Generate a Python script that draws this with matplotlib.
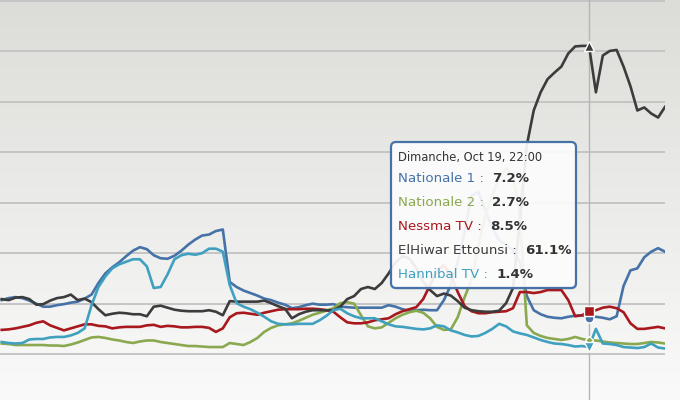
import matplotlib
matplotlib.use("Agg")
import matplotlib.pyplot as plt
import numpy as np
from matplotlib.patches import FancyBboxPatch

# audience share (%) per time slot, the hovered slot is index 85
names = ["Nationale 1", "Nationale 2", "Nessma TV", "ElHiwar Ettounsi", "Hannibal TV"]
colors = ["#4572A7", "#8AA94F", "#A8181D", "#3C3C3C", "#3FA0BF"]
markers = ["o", "D", "s", "^", "v"]

nationale1 = [10.7, 11.1, 11.3, 11.1, 10.6, 10.0, 9.4, 9.4, 9.7, 9.9,
              10.2, 10.4, 11.0, 11.8, 14.1, 16.0, 17.2, 18.2, 19.4, 20.5,
              21.2, 20.8, 19.6, 19.0, 18.9, 19.5, 20.5, 21.7, 22.7, 23.5,
              23.7, 24.4, 24.7, 14.3, 13.3, 12.6, 12.1, 11.6, 11.0, 10.7,
              10.2, 9.8, 9.1, 9.3, 9.7, 10.0, 9.8, 9.8, 9.9, 9.4,
              9.3, 9.2, 9.2, 9.2, 9.2, 9.2, 9.7, 9.4, 8.9, 8.6,
              8.7, 8.8, 8.7, 8.7, 10.7, 13.7, 18.2, 24.2, 31.5, 32.1,
              28.5, 25.0, 22.6, 21.6, 20.6, 18.2, 11.5, 8.7, 7.9, 7.4,
              7.2, 7.1, 7.4, 7.6, 7.7, 7.2, 7.4, 7.2, 6.9, 7.5,
              13.5, 16.6, 17.0, 19.2, 20.3, 21.0, 20.3]

nationale2 = [2.1, 2.0, 1.8, 1.8, 1.8, 1.8, 1.8, 1.7, 1.7, 1.6,
              1.9, 2.3, 2.8, 3.3, 3.4, 3.2, 2.9, 2.7, 2.4, 2.2,
              2.5, 2.7, 2.7, 2.4, 2.2, 2.0, 1.8, 1.6, 1.6, 1.5,
              1.4, 1.4, 1.4, 2.2, 2.0, 1.8, 2.4, 3.2, 4.4, 5.2,
              5.7, 5.9, 6.1, 6.6, 7.2, 7.8, 8.2, 8.6, 9.1, 10.1,
              10.3, 10.0, 7.7, 5.5, 5.1, 5.3, 6.2, 7.1, 7.8, 8.3,
              8.6, 8.2, 7.1, 5.4, 4.8, 4.9, 7.3, 11.3, 14.7, 21.6,
              27.5, 31.5, 34.9, 36.8, 35.4, 27.5, 5.7, 4.2, 3.6, 3.2,
              3.0, 2.8, 3.0, 3.4, 3.0, 2.7, 2.7, 2.5, 2.3, 2.2,
              2.1, 2.0, 2.0, 2.2, 2.4, 2.3, 2.1]

nessma = [4.8, 4.9, 5.1, 5.4, 5.7, 6.2, 6.5, 5.7, 5.2, 4.7,
          5.1, 5.5, 5.9, 5.9, 5.6, 5.5, 5.1, 5.3, 5.4, 5.4,
          5.4, 5.7, 5.8, 5.4, 5.6, 5.5, 5.3, 5.3, 5.4, 5.4,
          5.2, 4.4, 5.1, 7.3, 8.1, 8.2, 8.0, 7.8, 8.2, 8.5,
          8.8, 8.9, 8.9, 8.9, 9.0, 9.0, 8.9, 8.7, 8.4, 7.3,
          6.3, 6.1, 6.1, 6.3, 6.7, 6.9, 7.1, 7.9, 8.5, 8.9,
          9.3, 10.9, 13.7, 16.6, 17.6, 15.6, 12.3, 9.5, 8.5, 8.1,
          8.1, 8.3, 8.4, 8.5, 9.1, 12.3, 12.3, 12.1, 12.3, 12.7,
          12.7, 12.7, 10.7, 7.5, 7.7, 8.5, 8.7, 9.2, 9.4, 9.1,
          8.3, 6.1, 5.0, 5.0, 5.2, 5.4, 5.1]

elhiwar = [10.9, 10.7, 11.2, 11.3, 10.9, 9.8, 9.9, 10.6, 11.1, 11.3,
           11.8, 10.7, 11.0, 10.3, 8.9, 7.7, 8.0, 8.2, 8.1, 7.9,
           7.9, 7.5, 9.4, 9.6, 9.2, 8.8, 8.6, 8.5, 8.5, 8.5,
           8.7, 8.4, 7.7, 10.5, 10.4, 10.4, 10.4, 10.4, 10.6, 10.1,
           9.5, 9.0, 7.1, 7.9, 8.4, 8.7, 8.7, 8.7, 8.7, 9.4,
           10.9, 11.5, 12.9, 13.3, 12.9, 14.1, 16.0, 18.2, 19.4, 19.0,
           17.0, 14.3, 12.7, 11.5, 12.0, 11.6, 10.5, 9.2, 8.7, 8.5,
           8.4, 8.4, 8.6, 10.1, 13.1, 26.5, 41.4, 48.3, 51.9, 54.5,
           55.8, 57.0, 59.6, 61.0, 61.1, 61.1, 51.9, 59.2, 60.1, 60.3,
           57.0, 53.1, 48.3, 48.9, 47.7, 46.9, 49.0]

hannibal = [2.4, 2.2, 2.1, 2.2, 2.9, 3.0, 3.0, 3.3, 3.4, 3.4,
            3.7, 4.2, 5.1, 9.7, 13.3, 15.4, 17.0, 17.8, 18.3, 18.8,
            18.8, 17.4, 13.1, 13.3, 15.8, 18.8, 19.6, 19.9, 19.7, 20.0,
            20.9, 20.9, 20.3, 13.7, 10.1, 9.4, 8.9, 8.2, 7.4, 6.5,
            6.0, 5.9, 5.9, 6.0, 6.0, 6.0, 6.7, 7.6, 8.7, 9.0,
            8.1, 7.5, 7.1, 7.1, 7.1, 6.5, 5.9, 5.5, 5.4, 5.2,
            5.0, 4.9, 5.1, 5.7, 5.5, 4.7, 4.3, 3.8, 3.5, 3.6,
            4.2, 5.0, 6.0, 5.5, 4.5, 4.1, 3.8, 3.3, 2.8, 2.4,
            2.1, 2.0, 1.8, 1.5, 1.6, 1.4, 5.0, 2.1, 2.0, 1.8,
            1.4, 1.3, 1.2, 1.4, 2.1, 1.3, 1.1]

series = [nationale1, nationale2, nessma, elhiwar, hannibal]
hover = 85
tooltip_title = "Dimanche, Oct 19, 22:00"

W, H = 680, 400
fig = plt.figure(figsize=(W / 100, H / 100), dpi=100)

# background gradient
bg = fig.add_axes([0, 0, 1, 1], zorder=0)
grad = np.linspace(0, 1, 256).reshape(-1, 1)
top = np.array([220, 220, 216]) / 255
bot = np.array([250, 250, 250]) / 255
img = top + (bot - top) * grad[:, :, None]
bg.imshow(img, aspect="auto", extent=[0, 1, 0, 1])
bg.axis("off")

ax = fig.add_axes([0, 0, 665 / W, 1], zorder=1)
ax.patch.set_alpha(0)
t = np.arange(len(elhiwar))
ax.set_xlim(-0.25, 96)
ax.set_ylim(-9.1, 70.2)
for v in range(0, 80, 10):
    ax.axhline(v, color="#c2c2c2", lw=1.3, zorder=1)
for s in ax.spines.values():
    s.set_visible(False)
ax.set_xticks([])
ax.set_yticks([])

# crosshair
ax.axvline(hover, color="#b5b5b5", lw=1, zorder=2, clip_on=False)

for i, (vals, c) in enumerate(zip(series, colors)):
    ax.plot(t, vals, color=c, lw=1.9, zorder=3 + i, solid_joinstyle="round")
for i, (vals, c, m) in enumerate(zip(series, colors, markers)):
    ax.plot(hover, vals[hover], marker=m, ms=6.5 if m != "D" else 4.5, color=c,
            mec="white", mew=1, zorder=10 + i)

# tooltip, drawn on a pixel-space overlay (y goes down like the screen)
tip = fig.add_axes([0, 0, 1, 1], zorder=5)
tip.set_xlim(0, W)
tip.set_ylim(H, 0)
tip.axis("off")
tip.patch.set_alpha(0)
x0, y0, bw, bh = 391, 142, 185, 146
tip.add_patch(FancyBboxPatch((x0 + 1, y0 + 1.5), bw, bh, boxstyle="round,pad=0,rounding_size=5",
                             fc="black", ec="none", alpha=0.10))
tip.add_patch(FancyBboxPatch((x0, y0), bw, bh, boxstyle="round,pad=0,rounding_size=5",
                             fc=(1, 1, 1, 0.91), ec="#4572A7", lw=1.6))

tip.text(398, 158, tooltip_title, fontsize=8.3, color="#333333", va="center", ha="left")
row_y = [178, 202, 226, 250, 274]
for name, c, vals, yy in zip(names, colors, series, row_y):
    lab = tip.text(398, yy, name + " : ", fontsize=9.6, color=c, va="center", ha="left")
    tip.annotate("%.1f%%" % vals[hover], xy=(1, 0.5), xycoords=lab, xytext=(3, 0),
                 textcoords="offset points", va="center", ha="left",
                 fontsize=9.6, fontweight="bold", color="#333333",
                 annotation_clip=False)

fig.savefig("out.png", dpi=100)
